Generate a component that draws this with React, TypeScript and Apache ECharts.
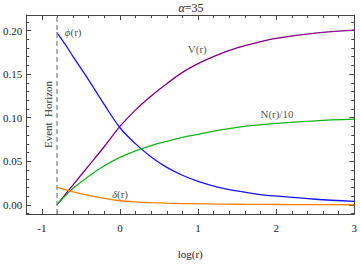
import React, { useEffect, useRef } from "react";
import * as echarts from "echarts";

const logR = [-0.81, -0.7, -0.6, -0.4, -0.2, 0, 0.2, 0.4, 0.6, 0.8, 1.0, 1.25, 1.5, 1.75, 2.0, 2.5, 3.0];
const phi = [0.198, 0.184, 0.170, 0.143, 0.115, 0.0885, 0.070, 0.055, 0.043, 0.034, 0.027, 0.0205, 0.016, 0.0125, 0.0102, 0.0065, 0.004];
const V = [0, 0.012, 0.023, 0.045, 0.067, 0.090, 0.109, 0.125, 0.139, 0.152, 0.162, 0.172, 0.180, 0.186, 0.191, 0.197, 0.2005];
const N10 = [0, 0.0105, 0.019, 0.033, 0.045, 0.0545, 0.062, 0.068, 0.073, 0.0775, 0.081, 0.0855, 0.089, 0.0915, 0.0935, 0.0965, 0.0984];
const delta = [0.0205, 0.0175, 0.015, 0.011, 0.0075, 0.0048, 0.0034, 0.0026, 0.002, 0.0016, 0.0013, 0.001, 0.0008, 0.0006, 0.0005, 0.0003, 0.0002];

const horizon = -0.81;
const xMajor = [-1, 0, 1, 2, 3];
const xMinor = [-1.2, -0.8, -0.6, -0.4, -0.2, 0.2, 0.4, 0.6, 0.8, 1.2, 1.4, 1.6, 1.8, 2.2, 2.4, 2.6, 2.8];
const yMajor = [0, 0.05, 0.1, 0.15, 0.2];
const yMinor = [-0.01, 0.01, 0.02, 0.03, 0.04, 0.06, 0.07, 0.08, 0.09, 0.11, 0.12, 0.13, 0.14, 0.16, 0.17, 0.18, 0.19, 0.21];

const FONT = "'Liberation Serif', 'DejaVu Serif', serif";
const TXT = "#222";
const FRAME = "#444";

function App() {
  const ref = useRef<HTMLDivElement>(null);
  useEffect(() => {
    document.body.style.margin = "0";
    const chart = echarts.init(ref.current!, null, { renderer: "svg" });
    const X_MIN = -1.2, X_MAX = 3, Y_MIN = -0.0104, Y_MAX = 0.2178;
    const xAx = (pos: string, major: boolean, line: boolean, labels: boolean) => ({
      type: "value", min: X_MIN, max: X_MAX, position: pos,
      axisLine: { show: line, onZero: false, lineStyle: { color: FRAME, width: 1 } },
      axisTick: { show: true, inside: true, length: major ? 5 : 3, customValues: major ? xMajor : xMinor, lineStyle: { color: FRAME } },
      axisLabel: labels ? { show: true, customValues: xMajor, fontFamily: FONT, fontSize: 11, color: TXT, margin: 8 } : { show: false },
      splitLine: { show: false },
    });
    const yAx = (pos: string, major: boolean, line: boolean, labels: boolean) => ({
      type: "value", min: Y_MIN, max: Y_MAX, position: pos,
      axisLine: { show: line, onZero: false, lineStyle: { color: FRAME, width: 1 } },
      axisTick: { show: true, inside: true, length: major ? 5 : 3, customValues: major ? yMajor : yMinor, lineStyle: { color: FRAME } },
      axisLabel: labels ? { show: true, customValues: yMajor, fontFamily: FONT, fontSize: 11, color: TXT, margin: 4, formatter: (v: number) => v.toFixed(2) } : { show: false },
      splitLine: { show: false },
    });
    const mk = (d: number[]) => logR.map((x, i) => [x, d[i]]);
    const lineS = (name: string, d: number[], color: string) => ({
      name, type: "line", data: mk(d), smooth: 0.35, showSymbol: false, symbol: "none",
      lineStyle: { color, width: 1.3 }, xAxisIndex: 0, yAxisIndex: 0, z: 3,
    });
    const rich = {
      i: { fontFamily: FONT, fontSize: 11, fontStyle: "italic", color: TXT },
      n: { fontFamily: FONT, fontSize: 11, color: TXT },
    };
    chart.setOption({
      animation: false,
      grid: { left: 24, right: 3, top: 15, bottom: 44 },
      graphic: [
        {
          type: "text", x: 191, y: 8,
          style: { text: "{i|α}{n|=35}", align: "center", verticalAlign: "middle", rich: {
            i: { fontFamily: FONT, fontSize: 12, fontStyle: "italic", fill: TXT },
            n: { fontFamily: FONT, fontSize: 12, fill: TXT } } },
        },
      ],
      xAxis: [
        { ...xAx("bottom", true, true, true), name: "log(r)", nameLocation: "middle", nameGap: 34, nameTextStyle: { fontFamily: FONT, fontSize: 11, color: TXT } },
        xAx("bottom", false, false, false),
        xAx("top", true, true, false),
        xAx("top", false, false, false),
      ],
      yAxis: [
        yAx("left", true, true, true),
        yAx("left", false, false, false),
        yAx("right", true, true, false),
        yAx("right", false, false, false),
      ],
      series: [
        {
          ...lineS("phi", phi, "#1414ff"),
          markLine: {
            silent: true, symbol: ["none", "none"],
            lineStyle: { color: "#999", type: [5, 3], width: 1.5 },
            label: { show: true, formatter: "Event  Horizon", position: "insideMiddleTop", distance: 3, fontFamily: FONT, fontSize: 11, color: "#333" },
            data: [{ xAxis: horizon }],
          },
        },
        lineS("V", V, "#800080"),
        lineS("N10", N10, "#19b019"),
        lineS("delta", delta, "#ff8000"),
        {
          type: "scatter", symbolSize: 0, xAxisIndex: 0, yAxisIndex: 0, silent: true,
          data: [
            { value: [-0.6, 0.198], t: "{i|ϕ}{n|(r)}" },
            { value: [0.99, 0.179], t: "{n|V(r)}" },
            { value: [2.01, 0.104], t: "{n|N(r)/10}" },
            { value: [0.0, 0.0128], t: "{i|δ}{n|(r)}" },
          ],
          label: { show: true, position: "inside", formatter: (p: any) => p.data.t, rich },
        },
      ],
    });
    return () => chart.dispose();
  }, []);
  return <div ref={ref} style={{ width: 360, height: 264 }} />;
}

export default App;
